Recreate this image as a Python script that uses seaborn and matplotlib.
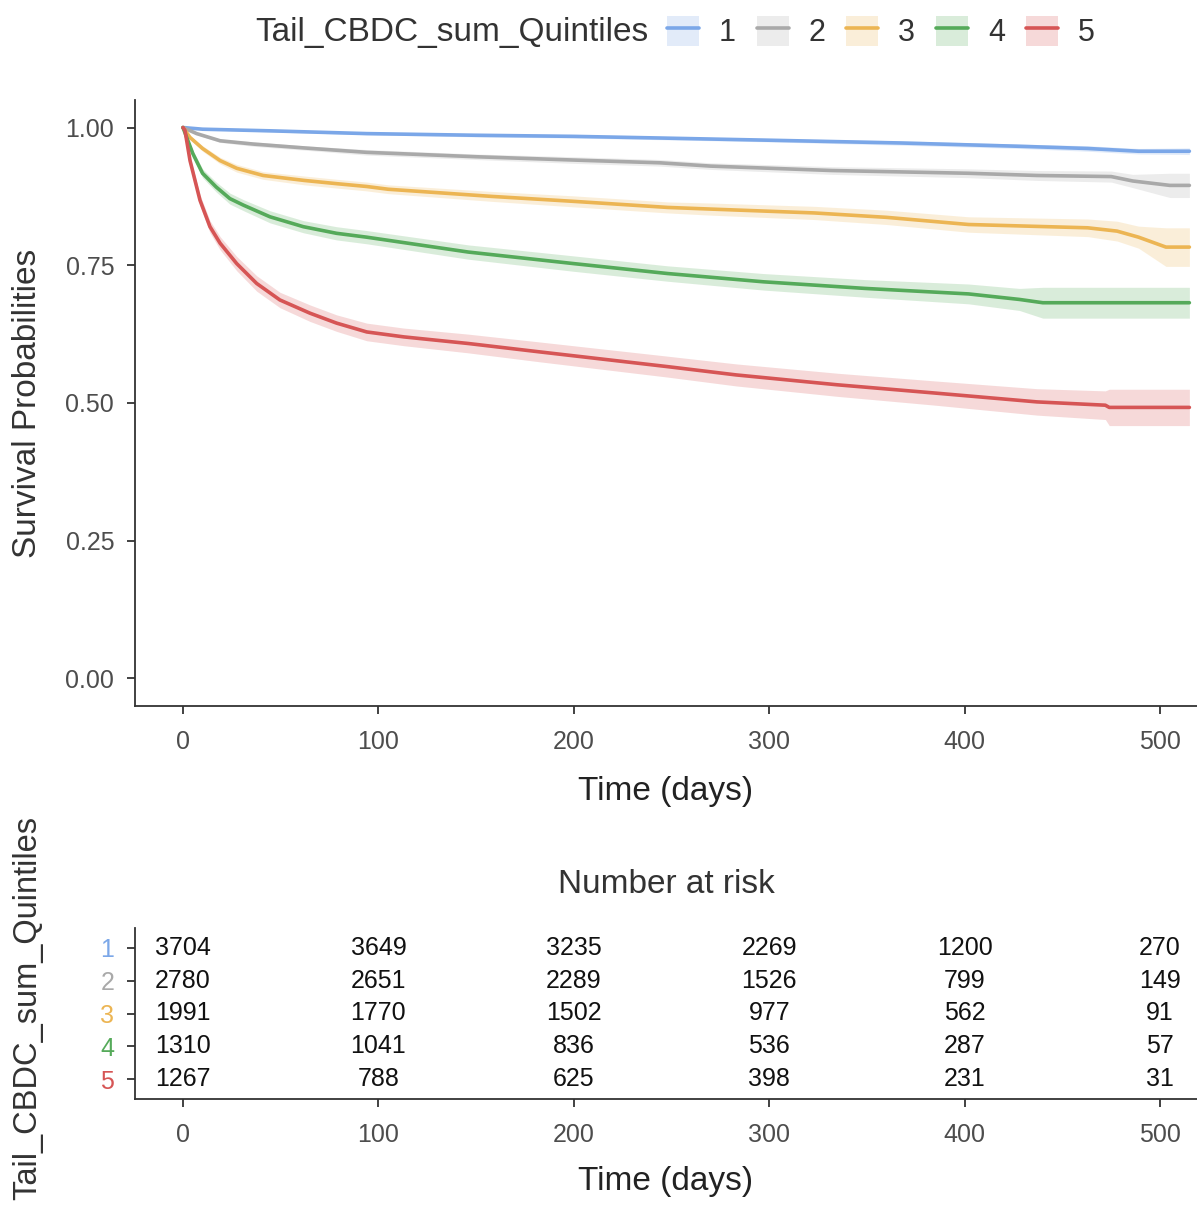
import numpy as np
import pandas as pd
import matplotlib
matplotlib.use("Agg")
import matplotlib.pyplot as plt
import seaborn as sns
from matplotlib.patches import Patch
from matplotlib.lines import Line2D

# ---------------- data ----------------
groups = ["1", "2", "3", "4", "5"]
colors = ["#7BA7E8", "#A9A9A9", "#ECB553", "#55AA5A", "#D65555"]

t1 = [0, 10, 45, 94, 150, 200, 244, 300, 367, 428, 463, 489, 515]
s1 = [1.0, 0.997, 0.994, 0.989, 0.986, 0.984, 0.981, 0.977, 0.972, 0.966, 0.962, 0.957, 0.957]
h1 = [0, 0.001, 0.002, 0.002, 0.003, 0.003, 0.003, 0.003, 0.004, 0.004, 0.005, 0.005, 0.006]

t2 = [0, 7, 19, 36, 62, 94, 150, 200, 244, 270, 332, 402, 437, 475, 486, 505, 515]
s2 = [1.0, 0.989, 0.976, 0.970, 0.963, 0.955, 0.947, 0.941, 0.936, 0.930, 0.922, 0.917, 0.913, 0.911, 0.903, 0.895, 0.895]
h2 = [0, 0.002, 0.003, 0.004, 0.004, 0.005, 0.005, 0.006, 0.006, 0.006, 0.007, 0.008, 0.009, 0.010, 0.012, 0.022, 0.022]

t3 = [0, 3.6, 10, 19, 27.5, 41, 62, 79, 94, 105, 158, 200, 248, 270, 323, 360, 402, 463, 478, 489, 503, 515]
s3 = [1.0, 0.982, 0.962, 0.940, 0.926, 0.913, 0.904, 0.898, 0.893, 0.888, 0.875, 0.866, 0.855, 0.852, 0.845, 0.837, 0.824, 0.818, 0.812, 0.801, 0.783, 0.783]
h3 = [0, 0.003, 0.005, 0.006, 0.007, 0.007, 0.008, 0.008, 0.008, 0.008, 0.009, 0.010, 0.010, 0.011, 0.012, 0.013, 0.014, 0.016, 0.018, 0.020, 0.035, 0.035]

t4 = [0, 1.9, 5, 10, 17, 24, 31, 44.5, 61.6, 78.6, 94, 146, 200, 248, 297, 349, 402, 428, 440, 515]
s4 = [1.0, 0.982, 0.953, 0.917, 0.892, 0.871, 0.859, 0.838, 0.820, 0.808, 0.801, 0.774, 0.753, 0.735, 0.720, 0.708, 0.698, 0.688, 0.682, 0.682]
h4 = [0, 0.004, 0.006, 0.008, 0.009, 0.010, 0.010, 0.011, 0.011, 0.012, 0.012, 0.013, 0.014, 0.014, 0.015, 0.016, 0.018, 0.020, 0.028, 0.028]

t5 = [0, 1, 3.6, 8.7, 13.8, 19, 27.5, 37.7, 49.6, 65, 78.6, 94, 113, 146, 182, 248, 283, 335, 385, 437, 472, 474, 515]
s5 = [1.0, 0.995, 0.940, 0.868, 0.820, 0.790, 0.753, 0.717, 0.687, 0.663, 0.645, 0.629, 0.620, 0.608, 0.593, 0.566, 0.551, 0.533, 0.518, 0.502, 0.496, 0.492, 0.492]
h5 = [0, 0.002, 0.007, 0.010, 0.011, 0.012, 0.013, 0.014, 0.014, 0.015, 0.015, 0.016, 0.016, 0.017, 0.018, 0.019, 0.020, 0.021, 0.022, 0.024, 0.026, 0.033, 0.033]

risk_times = [0, 100, 200, 300, 400, 500]
risk_1 = [3704, 3649, 3235, 2269, 1200, 270]
risk_2 = [2780, 2651, 2289, 1526, 799, 149]
risk_3 = [1991, 1770, 1502, 977, 562, 91]
risk_4 = [1310, 1041, 836, 536, 287, 57]
risk_5 = [1267, 788, 625, 398, 231, 31]

x_ticks = [0, 100, 200, 300, 400, 500]
y_ticks = [0.0, 0.25, 0.50, 0.75, 1.00]
y_ticklabels = ["0.00", "0.25", "0.50", "0.75", "1.00"]

# ---------------- build table ----------------
series = [(t1, s1, h1), (t2, s2, h2), (t3, s3, h3), (t4, s4, h4), (t5, s5, h5)]
frames = []
for g, (t, s, h) in zip(groups, series):
    s_arr = np.array(s); h_arr = np.array(h)
    frames.append(pd.DataFrame({"time": t, "surv": s, "lower": s_arr - h_arr,
                                "upper": s_arr + h_arr, "group": g}))
df = pd.concat(frames, ignore_index=True)
risks = [risk_1, risk_2, risk_3, risk_4, risk_5]

# ---------------- style ----------------
sns.set_theme(style="ticks")
plt.rcParams["font.family"] = ["Liberation Sans", "DejaVu Sans"]
spine_col = "#333333"
tick_col = "#4D4D4D"

W, H = 1197, 1207
fig = plt.figure(figsize=(W / 100, H / 100), dpi=100)
fig.patch.set_facecolor("white")

def px_rect(left, top, right, bottom):
    return [left / W, 1 - bottom / H, (right - left) / W, (bottom - top) / H]

xlim = (-24.56, 518.9)

# ---------------- main survival plot ----------------
ax = fig.add_axes(px_rect(135, 100, 1197, 706))
for g, c in zip(groups, colors):
    d = df[df["group"] == g]
    ax.fill_between(d["time"], d["lower"], d["upper"], color=c, alpha=0.22, linewidth=0, zorder=1)
sns.lineplot(data=df, x="time", y="surv", hue="group", hue_order=groups, palette=colors,
             estimator=None, linewidth=2.6, ax=ax, legend=False, zorder=3)
ax.set_xlim(*xlim)
ax.set_ylim(-0.05, 1.05)
ax.set_xticks(x_ticks)
ax.set_yticks(y_ticks)
ax.set_yticklabels(y_ticklabels)
ax.set_xlabel("Time (days)", fontsize=24, color="#222222", labelpad=16)
ax.set_ylabel("Survival Probabilities", fontsize=24, color="#333333")
ax.yaxis.set_label_coords((43 - 135) / 1062, 0.5)
sns.despine(ax=ax)
for sp in ["left", "bottom"]:
    ax.spines[sp].set_color(spine_col)
    ax.spines[sp].set_linewidth(1.3)
ax.tick_params(axis="x", length=6, width=1.3, color=spine_col, labelcolor=tick_col, labelsize=18, pad=11)
ax.tick_params(axis="y", length=6, width=1.3, color=spine_col, labelcolor=tick_col, labelsize=18, pad=9)
ax.grid(False)

# ---------------- risk table ----------------
axt = fig.add_axes(px_rect(135, 928, 1197, 1099))
for i, (g, r) in enumerate(zip(groups, risks)):
    for t, n in zip(risk_times, r):
        axt.text(t, i + 1, str(n), ha="center", va="center", fontsize=18, color="#111111")
axt.set_xlim(*xlim)
axt.set_ylim(5.6, 0.4)
axt.set_xticks(x_ticks)
axt.set_yticks(range(1, 6))
axt.set_yticklabels(groups)
for lab, c in zip(axt.get_yticklabels(), colors):
    lab.set_color(c)
axt.set_title("Number at risk", fontsize=24, color="#333333", pad=25)
axt.set_xlabel("Time (days)", fontsize=24, color="#222222", labelpad=14)
axt.set_ylabel("Tail_CBDC_sum_Quintiles", fontsize=23.5, color="#333333")
axt.yaxis.set_label_coords((43 - 135) / 1062, (1099 - 1008) / 171)
sns.despine(ax=axt)
for sp in ["left", "bottom"]:
    axt.spines[sp].set_color(spine_col)
    axt.spines[sp].set_linewidth(1.3)
axt.tick_params(axis="x", length=6, width=1.3, color=spine_col, labelcolor=tick_col, labelsize=18, pad=11)
axt.tick_params(axis="y", length=6, width=1.3, color=spine_col, labelsize=18, pad=9)
axt.grid(False)

# ---------------- legend ----------------
fig.text(648 / W, 1 - 32 / H, "Tail_CBDC_sum_Quintiles", ha="right", va="center",
         fontsize=24, color="#333333")
handles = [(Patch(facecolor=c, alpha=0.22, edgecolor="none"), Line2D([], [], color=c, lw=2.6))
           for c in colors]
fig.legend(handles, groups, loc="center left", bbox_to_anchor=(667 / W, 1 - 32 / H),
           ncol=5, frameon=False, fontsize=22, handlelength=1.05, handleheight=1.15,
           handletextpad=0.65, columnspacing=0.68, borderpad=0, borderaxespad=0,
           labelcolor="#333333")

fig.savefig("out.png", dpi=100)
